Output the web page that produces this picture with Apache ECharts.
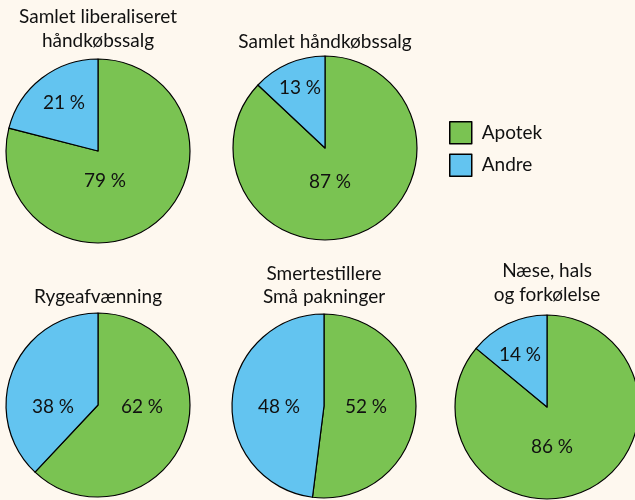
<!DOCTYPE html>
<html>
<head>
<meta charset="utf-8">
<script src="https://cdn.jsdelivr.net/npm/echarts@6/dist/echarts.min.js"></script>
<style>
html,body{margin:0;padding:0;background:#fef8ef;}
#c{width:635px;height:500px;}
</style>
</head>
<body>
<div id="c"></div>
<script>
// ---- data ----
const titles = ['Samlet liberaliseret\nhåndkøbssalg', 'Samlet håndkøbssalg', 'Rygeafvænning', 'Smertestillere\nSmå pakninger', 'Næse, hals\nog forkølelse'];
const categories = ['Apotek', 'Andre'];
const apotek = [79, 87, 62, 52, 86];
const andre = [21, 13, 38, 48, 14];

// ---- layout / style ----
const centers = [[98, 151], [325, 148], [98, 405], [324, 406], [547, 407]];
const radius = 92;
const titleY = [29, 42, 297, 285.5, 283];
const labelOffsets = [
  [[7, 30], [-34, -48]],
  [[5, 34], [-25, -60]],
  [[44, 2], [-45, 2]],
  [[42, 1], [-45, 1]],
  [[5, 40], [-27, -52]]
];
const colors = ['#7ac352', '#63c4f0'];
const FONT = 'Lato';

const series = titles.map((t, i) => ({
  type: 'pie',
  name: t,
  center: centers[i],
  radius: radius,
  startAngle: 90,
  clockwise: true,
  animation: false,
  silent: true,
  itemStyle: { borderColor: '#000', borderWidth: 1.2 },
  label: {
    show: true,
    position: 'inside',
    formatter: '{c} %',
    color: '#111',
    fontFamily: FONT,
    fontSize: 19
  },
  labelLine: { show: false },
  labelLayout: function (p) {
    const off = labelOffsets[i][p.dataIndex];
    return { x: centers[i][0] + off[0], y: centers[i][1] + off[1] };
  },
  data: [
    { name: categories[0], value: apotek[i] },
    { name: categories[1], value: andre[i] }
  ]
}));

const graphics = titles.map((t, i) => ({
  type: 'text',
  x: centers[i][0],
  y: titleY[i],
  style: {
    text: t,
    align: 'center',
    verticalAlign: 'middle',
    fill: '#111',
    fontFamily: FONT,
    fontSize: 19,
    lineHeight: 23.5
  }
}));

const chart = echarts.init(document.getElementById('c'), null, { renderer: 'canvas' });
chart.setOption({
  backgroundColor: '#fef8ef',
  animation: false,
  color: colors,
  legend: {
    orient: 'vertical',
    left: 449,
    top: 121,
    itemWidth: 22,
    itemHeight: 22,
    itemGap: 9,
    icon: 'rect',
    selectedMode: false,
    padding: 0,
    textStyle: { fontFamily: FONT, fontSize: 19, color: '#111', padding: [0, 0, 0, 5] },
    itemStyle: { borderColor: '#000', borderWidth: 1.5 },
    data: categories
  },
  graphic: graphics,
  series: series
});
</script>
</body>
</html>
